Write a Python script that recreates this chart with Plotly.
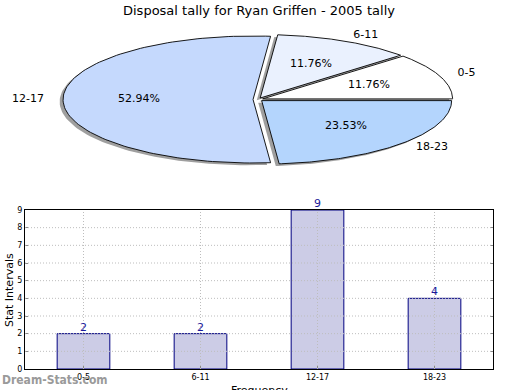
import numpy as np
import plotly.graph_objects as go

# ---------------- data ----------------
categories = ["0-5", "6-11", "12-17", "18-23"]
counts = [2, 2, 9, 4]
slice_colors = ["#ffffff", "#eaf1fe", "#c5d9fd", "#b4d5fd"]
y_ticks = list(range(0, 10))
chart_title = "Disposal tally for Ryan Griffen - 2005 tally"
x_title = "Frequency"
y_title = "Stat Intervals"
watermark = "Dream-Stats.com"

W, H = 520, 390
FONT = "DejaVu Sans"

# ---------------- pie geometry (layout only) ----------------
cx_px, cy_px = 258, 99.5
rx_px, ry_px = 190, 63.5
pie_top_px, pie_bot_px = 18, 185
explode = 0.026
shadow_dx, shadow_dy = -0.018, -0.035

xr2 = [-cx_px / rx_px, (W - cx_px) / rx_px]
yr2 = [-(pie_bot_px - cy_px) / ry_px, (cy_px - pie_top_px) / ry_px]

fig = go.Figure()

total = float(sum(counts))
fracs = [c / total for c in counts]
bounds = np.concatenate([[0.0], np.cumsum(fracs)]) * 360.0

wedges = []
for i, cat in enumerate(categories):
    t1, t2 = bounds[i], bounds[i + 1]
    mid = np.radians((t1 + t2) / 2)
    ox, oy = explode * np.cos(mid), explode * np.sin(mid)
    th = np.radians(np.linspace(t1, t2, 120))
    xs = np.concatenate([[ox], ox + np.cos(th), [ox]])
    ys = np.concatenate([[oy], oy + np.sin(th), [oy]])
    wedges.append((xs, ys, mid, ox, oy))

# shadows
for xs, ys, mid, ox, oy in wedges:
    fig.add_trace(go.Scatter(x=xs + shadow_dx, y=ys + shadow_dy, xaxis="x2", yaxis="y2",
                             mode="lines", fill="toself", fillcolor="rgba(80,80,80,0.55)",
                             line=dict(width=0), hoverinfo="skip", showlegend=False))
# wedges
for i, (xs, ys, mid, ox, oy) in enumerate(wedges):
    fig.add_trace(go.Scatter(x=xs, y=ys, xaxis="x2", yaxis="y2",
                             mode="lines", fill="toself", fillcolor=slice_colors[i],
                             line=dict(color="black", width=0.9), hoverinfo="skip",
                             showlegend=False))

# labels and percentages
for i, (xs, ys, mid, ox, oy) in enumerate(wedges):
    lx = ox + 1.1 * np.cos(mid)
    ly = oy + 1.1 * np.sin(mid)
    pos = "middle right" if lx > 0 else "middle left"
    fig.add_trace(go.Scatter(x=[lx], y=[ly], xaxis="x2", yaxis="y2", mode="text",
                             text=[categories[i]], textposition=pos,
                             textfont=dict(family=FONT, size=11, color="black"),
                             hoverinfo="skip", showlegend=False))
    px_ = ox + 0.6 * np.cos(mid)
    py_ = oy + 0.6 * np.sin(mid)
    fig.add_trace(go.Scatter(x=[px_], y=[py_], xaxis="x2", yaxis="y2", mode="text",
                             text=["%.2f%%" % (fracs[i] * 100)], textposition="middle center",
                             textfont=dict(family=FONT, size=11, color="black"),
                             hoverinfo="skip", showlegend=False))

# ---------------- bar chart ----------------
fig.add_trace(go.Bar(x=categories, y=counts, width=0.45,
                     marker=dict(color="#ccccE6", line=dict(color="#000080", width=1)),
                     showlegend=False, hoverinfo="skip"))

bar_l, bar_r, bar_t, bar_b = 25, 493, 210, 369

grid_style = dict(color="#bdbdbd", width=1, dash="1px,2px")
shapes = []
for v in y_ticks[1:-1]:
    shapes.append(dict(type="line", xref="x domain", yref="y", x0=0, x1=1, y0=v, y1=v,
                       line=grid_style, layer="above"))
for c in categories:
    shapes.append(dict(type="line", xref="x", yref="y domain", x0=c, x1=c, y0=0, y1=1,
                       line=grid_style, layer="above"))

annotations = [
    dict(text=chart_title, xref="paper", yref="paper", x=259 / W, y=1 - 10 / H,
         xanchor="center", yanchor="middle", showarrow=False,
         font=dict(family=FONT, size=13, color="black")),
    dict(text=x_title, xref="paper", yref="paper", x=259 / W, y=1 - 382 / H,
         xanchor="center", yanchor="top", showarrow=False,
         font=dict(family=FONT, size=11, color="black")),
    dict(text=y_title, xref="paper", yref="paper", x=9 / W, y=1 - 290 / H,
         xanchor="center", yanchor="middle", textangle=-90, showarrow=False,
         font=dict(family=FONT, size=11, color="black")),
    dict(text="<b>" + watermark + "</b>", xref="paper", yref="paper",
         x=0, y=1 - 380 / H, xanchor="left", yanchor="middle",
         showarrow=False, font=dict(family="DejaVu Sans Condensed, DejaVu Sans", size=12,
                                    color="#9a9a9a")),
]
for c, v in zip(categories, counts):
    annotations.append(dict(text=str(v), xref="x", yref="y", x=c, y=v,
                            xanchor="center", yanchor="bottom", yshift=-2,
                            showarrow=False,
                            font=dict(family=FONT, size=11, color="#1a1a9a")))

fig.update_layout(
    width=W, height=H,
    margin=dict(l=0, r=0, t=0, b=0),
    paper_bgcolor="white", plot_bgcolor="white",
    font=dict(family=FONT, color="black"),
    showlegend=False,
    shapes=shapes,
    annotations=annotations,
    xaxis=dict(domain=[bar_l / W, bar_r / W], range=[-0.5, 3.5], type="category",
               showline=True, linecolor="black", linewidth=1, mirror=True,
               showgrid=False,
               ticks="inside", ticklen=3, tickcolor="#888",
               tickfont=dict(family=FONT, size=8, color="black"),
               automargin=False, anchor="y", fixedrange=True),
    yaxis=dict(domain=[1 - bar_b / H, 1 - bar_t / H], range=[0, 9],
               tickvals=y_ticks, ticktext=[str(v) for v in y_ticks],
               showline=True, linecolor="black", linewidth=1, mirror="ticks",
               showgrid=False,
               ticks="inside", ticklen=3, tickcolor="#888",
               tickfont=dict(family=FONT, size=8, color="black"),
               automargin=False, zeroline=False, anchor="x", fixedrange=True),
    xaxis2=dict(domain=[0, 1], range=xr2, visible=False, anchor="y2", fixedrange=True,
                automargin=False),
    yaxis2=dict(domain=[1 - pie_bot_px / H, 1 - pie_top_px / H], range=yr2,
                visible=False, anchor="x2", fixedrange=True, automargin=False),
)

fig.write_html("out.html", config={"displayModeBar": False},
               post_script="document.body.style.margin='0';document.body.style.overflow='hidden';")
